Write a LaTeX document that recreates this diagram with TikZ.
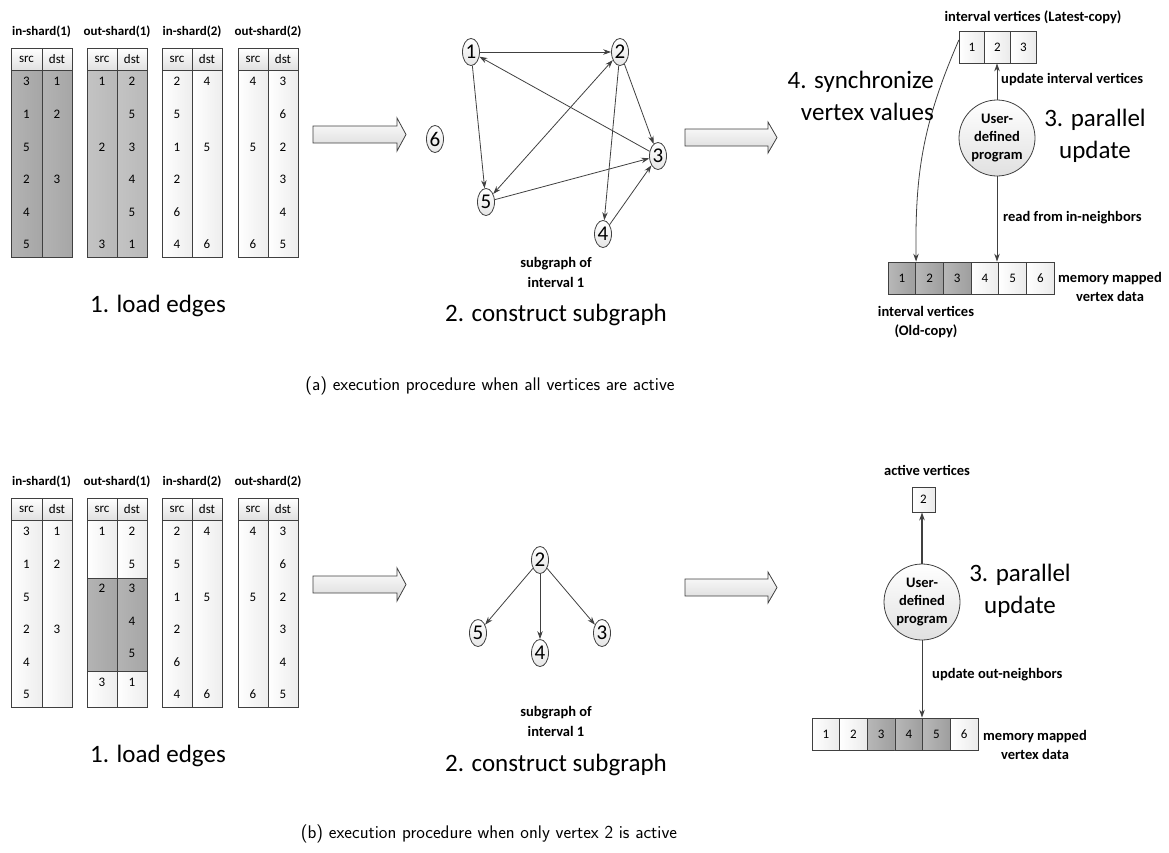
\documentclass[tikz,border=0pt]{standalone}
\usepackage{fontspec}
\setmainfont{Carlito}
\usetikzlibrary{shapes.geometric,arrows.meta}

\definecolor{edgegray}{HTML}{404040}
\definecolor{shadeA}{HTML}{A6A6A6}
\definecolor{shadeB}{HTML}{B9B9B9}

\tikzset{
  >={Stealth[length=8pt,width=5.5pt]},
  hdr/.style={draw=edgegray, line width=0.8pt, top color=white, bottom color=black!12},
  darkcol/.style={draw=edgegray, line width=0.8pt, left color=#1!85!white, right color=#1},
  lightcol/.style={draw=edgegray, line width=0.8pt, left color=white, right color=black!7},
  val/.style={font=\fontsize{13}{13}\selectfont, inner sep=0pt},
  ttl/.style={font=\bfseries\fontsize{13}{13}\selectfont, inner sep=0pt},
  lbl/.style={font=\bfseries\fontsize{14.5}{19}\selectfont, inner sep=0pt},
  big/.style={font=\fontsize{25}{32}\selectfont, inner sep=0pt},
  captxt/.style={font=\sffamily\fontsize{18.3}{18.3}\selectfont, inner sep=0pt},
  vtx/.style={ellipse, draw=edgegray, line width=0.8pt, top color=white, bottom color=black!10,
    minimum width=17pt, minimum height=27pt, inner sep=0pt, font=\fontsize{21}{21}\selectfont},
  lcell/.style={rectangle, draw=edgegray, line width=0.8pt, left color=white, right color=black!8,
    minimum width=25.5pt, minimum height=32pt, inner sep=0pt, font=\fontsize{13}{13}\selectfont},
  mcell/.style={lcell, minimum width=27.7pt},
  dcell/.style={mcell, left color=black!28, right color=black!38},
  prog/.style={circle, draw=edgegray, line width=0.8pt, top color=white, bottom color=black!12,
    minimum size=76pt, inner sep=0pt, align=center, font=\bfseries\fontsize{14.5}{18}\selectfont},
  link/.style={draw=edgegray, line width=0.8pt},
  blockarrow/.style={draw=edgegray, line width=0.8pt, top color=white, bottom color=black!15}
}

\begin{document}
\begin{tikzpicture}[x=1pt, y=-1pt]
  \useasboundingbox (0,0) rectangle (1169,852);

  % (a) load edges
  \draw
    (41.5,32) node[ttl] (a1){in-shard(1)}
    (117,32) node[ttl] (a2){out-shard(1)}
    (192,32) node[ttl] (a3){in-shard(2)}
    (268,32) node[ttl] (a4){out-shard(2)};
  \draw[hdr] (11,48) rectangle (42,70) (42,48) rectangle (72,70)
    (87,48) rectangle (117,70) (117,48) rectangle (147,70)
    (162,48) rectangle (192,70) (192,48) rectangle (222,70)
    (238,48) rectangle (268,70) (268,48) rectangle (298,70);
  \draw[darkcol=shadeA] (11,70) rectangle (42,257);
  \draw[darkcol=shadeA] (42,70) rectangle (72,257);
  \draw[darkcol=shadeB] (87,70) rectangle (117,257);
  \draw[darkcol=shadeB] (117,70) rectangle (147,257);
  \draw[lightcol] (162,70) rectangle (192,257);
  \draw[lightcol] (192,70) rectangle (222,257);
  \draw[lightcol] (238,70) rectangle (268,257);
  \draw[lightcol] (268,70) rectangle (298,257);
  \draw[nodes=val]
    (26.5,59) node (a1s){src} (57,59) node (a1d){dst}
    (102,59) node (a2s){src} (132,59) node (a2d){dst}
    (177,59) node (a3s){src} (207,59) node (a3d){dst}
    (253,59) node (a4s){src} (283,59) node (a4d){dst}
    (26.5,81) node (a1s1){3} (57,81) node (a1d1){1}
    (26.5,114) node (a1s2){1} (57,114) node (a1d2){2}
    (26.5,147) node (a1s3){5}
    (26.5,179) node (a1s4){2} (57,179) node (a1d4){3}
    (26.5,212) node (a1s5){4}
    (26.5,244) node (a1s6){5}
    (102,81) node (a2s1){1} (132,81) node (a2d1){2}
    (132,114) node (a2d2){5}
    (102,147) node (a2s3){2} (132,147) node (a2d3){3}
    (132,179) node (a2d4){4}
    (132,212) node (a2d5){5}
    (102,244) node (a2s6){3} (132,244) node (a2d6){1}
    (177,81) node (a3s1){2} (207,81) node (a3d1){4}
    (177,114) node (a3s2){5}
    (177,147) node (a3s3){1} (207,147) node (a3d3){5}
    (177,179) node (a3s4){2}
    (177,212) node (a3s5){6}
    (177,244) node (a3s6){4} (207,244) node (a3d6){6}
    (253,81) node (a4s1){4} (283,81) node (a4d1){3}
    (283,114) node (a4d2){6}
    (253,147) node (a4s3){5} (283,147) node (a4d3){2}
    (283,179) node (a4d4){3}
    (283,212) node (a4d5){4}
    (253,244) node (a4s6){6} (283,244) node (a4d6){5};
  \node[big] (aload) at (158,306) {1. load edges};

  \draw[blockarrow] (313,126) -- (397,126) -- (397,118) -- (406,134.5) -- (397,151)
    -- (397,143) -- (313,143) -- cycle;

  % (a) subgraph
  \draw
    (471,52) node[vtx] (g1){1}
    (620,52) node[vtx] (g2){2}
    (658,156) node[vtx] (g3){3}
    (603,234) node[vtx] (g4){4}
    (486,202) node[vtx] (g5){5}
    (435,139) node[vtx] (g6){6};
  \begin{scope}[link]
    \draw[->] (g1) to (g2);
    \draw[->] (g1) to (g5);
    \draw[->] (g3) to (g1);
    \draw[<->] (g2) to (g5);
    \draw[->] (g2) to (g3);
    \draw[->] (g2) to (g4);
    \draw[->] (g5) to (g3);
    \draw[->] (g4) to (g3);
  \end{scope}
  \node[lbl, align=center, font=\bfseries\fontsize{14.5}{20}\selectfont] (asub) at (556,272) {subgraph of\\interval 1};
  \node[big] (acons) at (556,315) {2. construct subgraph};

  \draw[blockarrow] (685,129) -- (768,129) -- (768,122) -- (777,137.5) -- (768,153)
    -- (768,146) -- (685,146) -- cycle;

  % (a) parallel update
  \draw
    (972,47) node[lcell] (al1){1}
    (997.5,47) node[lcell] (al2){2}
    (1023.5,47) node[lcell] (al3){3}
    (1033,17) node[lbl] (alat){interval vertices (Latest-copy)}
    (997,138) node[prog] (aprog){User-\\defined\\program}
    (901.85,278) node[dcell] (am1){1}
    (929.55,278) node[dcell] (am2){2}
    (957.25,278) node[dcell] (am3){3}
    (984.95,278) node[mcell] (am4){4}
    (1012.65,278) node[mcell] (am5){5}
    (1040.35,278) node[mcell] (am6){6};
  \begin{scope}[link]
    \draw[->] (aprog.north) -- (aprog.north |- al2.south);
    \draw[->] (aprog.south) -- (aprog.south |- am4.north);
    \draw[->] ([yshift=7pt]al1.west) .. controls (922,125) and (915,175) .. (am1.north east);
  \end{scope}
  \draw
    (1001,80) node[lbl, anchor=west] (aupd){update interval vertices}
    (1003,218) node[lbl, anchor=west] (aread){read from in-neighbors}
    (934,96) node[big, anchor=east, align=right] (async){4. synchronize\\vertex values}
    (1095,136) node[big, align=center] (apar){3. parallel\\update}
    (1110,287) node[lbl, align=center] (amem){memory mapped\\vertex data}
    (926,322) node[lbl, align=center] (aold){interval vertices\\(Old-copy)};

  \node[captxt] (capa) at (490,386) {(a) execution procedure when all vertices are active};

  % (b) load edges
  \draw
    (41.5,482) node[ttl] (b1){in-shard(1)}
    (117,482) node[ttl] (b2){out-shard(1)}
    (192,482) node[ttl] (b3){in-shard(2)}
    (268,482) node[ttl] (b4){out-shard(2)};
  \draw[hdr] (11,498) rectangle (42,520) (42,498) rectangle (72,520)
    (87,498) rectangle (117,520) (117,498) rectangle (147,520)
    (162,498) rectangle (192,520) (192,498) rectangle (222,520)
    (238,498) rectangle (268,520) (268,498) rectangle (298,520);
  \draw[lightcol] (11,520) rectangle (42,707);
  \draw[lightcol] (42,520) rectangle (72,707);
  \draw[lightcol] (87,520) rectangle (117,578);
  \draw[lightcol] (117,520) rectangle (147,578);
  \draw[darkcol=shadeA] (87,578) rectangle (117,671);
  \draw[darkcol=shadeA] (117,578) rectangle (147,671);
  \draw[lightcol] (87,671) rectangle (117,707);
  \draw[lightcol] (117,671) rectangle (147,707);
  \draw[lightcol] (162,520) rectangle (192,707);
  \draw[lightcol] (192,520) rectangle (222,707);
  \draw[lightcol] (238,520) rectangle (268,707);
  \draw[lightcol] (268,520) rectangle (298,707);
  \draw[nodes=val]
    (26.5,509) node (b1s){src} (57,509) node (b1d){dst}
    (102,509) node (b2s){src} (132,509) node (b2d){dst}
    (177,509) node (b3s){src} (207,509) node (b3d){dst}
    (253,509) node (b4s){src} (283,509) node (b4d){dst}
    (26.5,531) node (b1s1){3} (57,531) node (b1d1){1}
    (26.5,564) node (b1s2){1} (57,564) node (b1d2){2}
    (26.5,597) node (b1s3){5}
    (26.5,629) node (b1s4){2} (57,629) node (b1d4){3}
    (26.5,662) node (b1s5){4}
    (26.5,694) node (b1s6){5}
    (102,531) node (b2s1){1} (132,531) node (b2d1){2}
    (132,564) node (b2d2){5}
    (102,588) node (b2s3){2} (132,588) node (b2d3){3}
    (132,621) node (b2d4){4}
    (132,653) node (b2d5){5}
    (102,682) node (b2s6){3} (132,682) node (b2d6){1}
    (177,531) node (b3s1){2} (207,531) node (b3d1){4}
    (177,564) node (b3s2){5}
    (177,597) node (b3s3){1} (207,597) node (b3d3){5}
    (177,629) node (b3s4){2}
    (177,662) node (b3s5){6}
    (177,694) node (b3s6){4} (207,694) node (b3d6){6}
    (253,531) node (b4s1){4} (283,531) node (b4d1){3}
    (283,564) node (b4d2){6}
    (253,597) node (b4s3){5} (283,597) node (b4d3){2}
    (283,629) node (b4d4){3}
    (283,662) node (b4d5){4}
    (253,694) node (b4s6){6} (283,694) node (b4d6){5};
  \node[big] (bload) at (158,756) {1. load edges};

  \draw[blockarrow] (313,576) -- (397,576) -- (397,568) -- (406,584.5) -- (397,601)
    -- (397,593) -- (313,593) -- cycle;

  % (b) subgraph
  \draw
    (540,560) node[vtx] (h2){2}
    (602,633) node[vtx] (h3){3}
    (540,653) node[vtx] (h4){4}
    (478,633) node[vtx] (h5){5};
  \begin{scope}[link]
    \draw[->] (h2) to (h5);
    \draw[->] (h2) to (h4);
    \draw[->] (h2) to (h3);
  \end{scope}
  \node[lbl, align=center, font=\bfseries\fontsize{14.5}{20}\selectfont] (bsub) at (556,721) {subgraph of\\interval 1};
  \node[big] (bcons) at (556,765) {2. construct subgraph};

  \draw[blockarrow] (685,579) -- (768,579) -- (768,572) -- (777,587.5) -- (768,603)
    -- (768,596) -- (685,596) -- cycle;

  % (b) parallel update
  \draw
    (923.5,499.5) node[lcell, minimum width=23pt, minimum height=25pt] (bact){2}
    (927,470) node[lbl] (bactv){active vertices}
    (922,602) node[prog] (bprog){User-\\defined\\program}
    (825.8,734) node[mcell] (bm1){1}
    (853.5,734) node[mcell] (bm2){2}
    (881.2,734) node[dcell] (bm3){3}
    (908.8,734) node[dcell] (bm4){4}
    (936.5,734) node[dcell] (bm5){5}
    (964.2,734) node[mcell] (bm6){6};
  \begin{scope}[link]
    \draw[->, line width=1.6pt] (bprog.north) -- (bprog.north |- bact.south);
    \draw[->] (bprog.south) -- (bprog.south |- bm4.north);
  \end{scope}
  \draw
    (1020,591) node[big, align=center] (bpar){3. parallel\\update}
    (932,675) node[lbl, anchor=west] (bupd){update out-neighbors}
    (1035,745) node[lbl, align=center] (bmem){memory mapped\\vertex data};

  \node[captxt] (capb) at (489,834) {(b) execution procedure when only vertex 2 is active};
\end{tikzpicture}
\end{document}
